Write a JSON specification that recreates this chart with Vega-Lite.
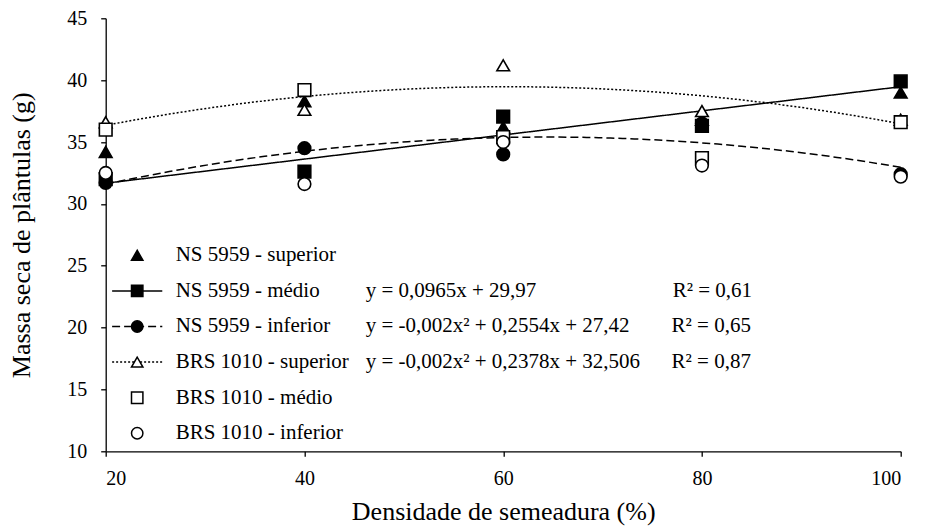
{
  "$schema": "https://vega.github.io/schema/vega-lite/v6.json",
  "width": 795,
  "height": 433,
  "autosize": {"type": "none"},
  "padding": {"left": 105.7, "top": 18.3, "right": 27.3, "bottom": 80},
  "background": "white",
  "config": {
    "view": {"stroke": null},
    "font": "Liberation Serif",
    "axis": {
      "labelFont": "Liberation Serif",
      "titleFont": "Liberation Serif",
      "labelFontSize": 20,
      "titleFontSize": 26,
      "titleFontWeight": "normal",
      "labelColor": "black",
      "titleColor": "black",
      "domainColor": "black",
      "tickColor": "black",
      "domainWidth": 1.3,
      "tickWidth": 1.3,
      "tickSize": 5,
      "grid": false
    },
    "legend": {"labelFont": "Liberation Serif"}
  },
  "data": {
    "values": [
      {"series": "NS 5959 - superior", "dens": 20, "mass": 34.2},
      {"series": "NS 5959 - superior", "dens": 40, "mass": 38.3},
      {"series": "NS 5959 - superior", "dens": 60, "mass": 36.2},
      {"series": "NS 5959 - superior", "dens": 80, "mass": 36.8},
      {"series": "NS 5959 - superior", "dens": 100, "mass": 39.0},
      {"series": "NS 5959 - médio", "dens": 20, "mass": 32.0},
      {"series": "NS 5959 - médio", "dens": 40, "mass": 32.6},
      {"series": "NS 5959 - médio", "dens": 60, "mass": 37.05},
      {"series": "NS 5959 - médio", "dens": 80, "mass": 36.3},
      {"series": "NS 5959 - médio", "dens": 100, "mass": 39.9},
      {"series": "NS 5959 - inferior", "dens": 20, "mass": 31.7},
      {"series": "NS 5959 - inferior", "dens": 40, "mass": 34.5},
      {"series": "NS 5959 - inferior", "dens": 60, "mass": 34.0},
      {"series": "NS 5959 - inferior", "dens": 80, "mass": 36.5},
      {"series": "NS 5959 - inferior", "dens": 100, "mass": 32.4},
      {"series": "BRS 1010 - superior", "dens": 20, "mass": 36.6},
      {"series": "BRS 1010 - superior", "dens": 40, "mass": 37.6},
      {"series": "BRS 1010 - superior", "dens": 60, "mass": 41.2},
      {"series": "BRS 1010 - superior", "dens": 80, "mass": 37.5},
      {"series": "BRS 1010 - superior", "dens": 100, "mass": 36.8},
      {"series": "BRS 1010 - médio", "dens": 20, "mass": 36.0},
      {"series": "BRS 1010 - médio", "dens": 40, "mass": 39.2},
      {"series": "BRS 1010 - médio", "dens": 60, "mass": 35.4},
      {"series": "BRS 1010 - médio", "dens": 80, "mass": 33.7},
      {"series": "BRS 1010 - médio", "dens": 100, "mass": 36.6},
      {"series": "BRS 1010 - inferior", "dens": 20, "mass": 32.5},
      {"series": "BRS 1010 - inferior", "dens": 40, "mass": 31.6},
      {"series": "BRS 1010 - inferior", "dens": 60, "mass": 35.0},
      {"series": "BRS 1010 - inferior", "dens": 80, "mass": 33.1},
      {"series": "BRS 1010 - inferior", "dens": 100, "mass": 32.2}
    ]
  },
  "layer": [
    {
      "transform": [
        {"filter": "datum.series == 'NS 5959 - médio'"},
        {"regression": "mass", "on": "dens", "groupby": ["series"]}
      ],
      "mark": {"type": "line", "color": "black", "strokeWidth": 1.5},
      "encoding": {
        "x": {"field": "dens", "type": "quantitative", "scale": {"domain": [20, 100], "nice": false},
              "axis": {"values": [20, 40, 60, 80, 100], "title": "Densidade de semeadura (%)", "labelPadding": 12, "titlePadding": 10}},
        "y": {"field": "mass", "type": "quantitative", "scale": {"domain": [10, 45], "nice": false, "zero": false},
              "axis": {"values": [10, 15, 20, 25, 30, 35, 40, 45], "title": "Massa seca de plântulas (g)", "labelPadding": 14, "titlePadding": 32}},
        "strokeDash": {
          "field": "series", "type": "nominal",
          "scale": {"domain": ["~1", "NS 5959 - médio", "NS 5959 - inferior", "BRS 1010 - superior", "~5", "~6"],
                    "range": [[0, 100], [1, 0], [8, 4], [2, 2], [0, 100], [0, 100]]},
          "legend": {
            "orient": "none", "legendX": 21, "legendY": 226.5, "title": null, "padding": 0,
            "symbolType": "M-4.4,0H4.4", "symbolSize": 130, "symbolStrokeColor": "black", "symbolStrokeWidth": 1.5,
            "symbolFillColor": "transparent",
            "labelFont": "Liberation Serif", "labelFontSize": 21, "labelColor": "black", "labelLimit": 0,
            "labelOffset": 218, "rowPadding": 13.6,
            "labelExpr": "datum.label == 'NS 5959 - médio' ? 'y = 0,0965x + 29,97\u00a0\u00a0\u00a0\u00a0\u00a0\u00a0\u00a0\u00a0\u00a0\u00a0\u00a0\u00a0\u00a0\u00a0\u00a0\u00a0\u00a0\u00a0\u00a0\u00a0\u00a0\u00a0\u00a0\u00a0\u00a0\u00a0R² = 0,61' : datum.label == 'NS 5959 - inferior' ? 'y = -0,002x² + 0,2554x + 27,42\u00a0\u00a0\u00a0\u00a0\u00a0\u00a0\u00a0\u00a0R² = 0,65' : datum.label == 'BRS 1010 - superior' ? 'y = -0,002x² + 0,2378x + 32,506\u00a0\u00a0\u00a0\u00a0\u00a0\u00a0R² = 0,87' : ''"
          }
        }
      }
    },
    {
      "transform": [
        {"filter": {"field": "series", "oneOf": ["NS 5959 - inferior", "BRS 1010 - superior"]}},
        {"regression": "mass", "on": "dens", "method": "poly", "order": 2, "groupby": ["series"]}
      ],
      "mark": {"type": "line", "color": "black", "strokeWidth": 1.5},
      "encoding": {
        "x": {"field": "dens", "type": "quantitative"},
        "y": {"field": "mass", "type": "quantitative"},
        "strokeDash": {"field": "series", "type": "nominal"}
      }
    },
    {
      "mark": {"type": "point", "strokeWidth": 1.6, "size": 160, "opacity": 1},
      "encoding": {
        "x": {"field": "dens", "type": "quantitative"},
        "y": {"field": "mass", "type": "quantitative"},
        "shape": {
          "field": "series", "type": "nominal",
          "scale": {"domain": ["NS 5959 - superior", "NS 5959 - médio", "NS 5959 - inferior", "BRS 1010 - superior", "BRS 1010 - médio", "BRS 1010 - inferior"],
                    "range": ["triangle-up", "square", "circle", "triangle-up", "square", "circle"]},
          "legend": {
            "orient": "none", "legendX": 21, "legendY": 226.5, "title": null, "padding": 0,
            "symbolSize": 130, "symbolStrokeWidth": 1.5,
            "labelFont": "Liberation Serif", "labelFontSize": 21, "labelColor": "black", "labelLimit": 0,
            "labelOffset": 28, "rowPadding": 13.6
          }
        },
        "fill": {
          "field": "series", "type": "nominal",
          "scale": {"domain": ["NS 5959 - superior", "NS 5959 - médio", "NS 5959 - inferior", "BRS 1010 - superior", "BRS 1010 - médio", "BRS 1010 - inferior"],
                    "range": ["black", "black", "black", "white", "white", "white"]},
          "legend": {
            "orient": "none", "legendX": 21, "legendY": 226.5, "title": null, "padding": 0,
            "symbolSize": 130, "symbolStrokeWidth": 1.5,
            "labelFont": "Liberation Serif", "labelFontSize": 21, "labelColor": "black", "labelLimit": 0,
            "labelOffset": 28, "rowPadding": 13.6
          }
        },
        "stroke": {
          "field": "series", "type": "nominal",
          "scale": {"domain": ["NS 5959 - superior", "NS 5959 - médio", "NS 5959 - inferior", "BRS 1010 - superior", "BRS 1010 - médio", "BRS 1010 - inferior"],
                    "range": ["black", "black", "black", "black", "black", "black"]},
          "legend": {
            "orient": "none", "legendX": 21, "legendY": 226.5, "title": null, "padding": 0,
            "symbolSize": 130, "symbolStrokeWidth": 1.5,
            "labelFont": "Liberation Serif", "labelFontSize": 21, "labelColor": "black", "labelLimit": 0,
            "labelOffset": 28, "rowPadding": 13.6
          }
        }
      }
    }
  ]
}
